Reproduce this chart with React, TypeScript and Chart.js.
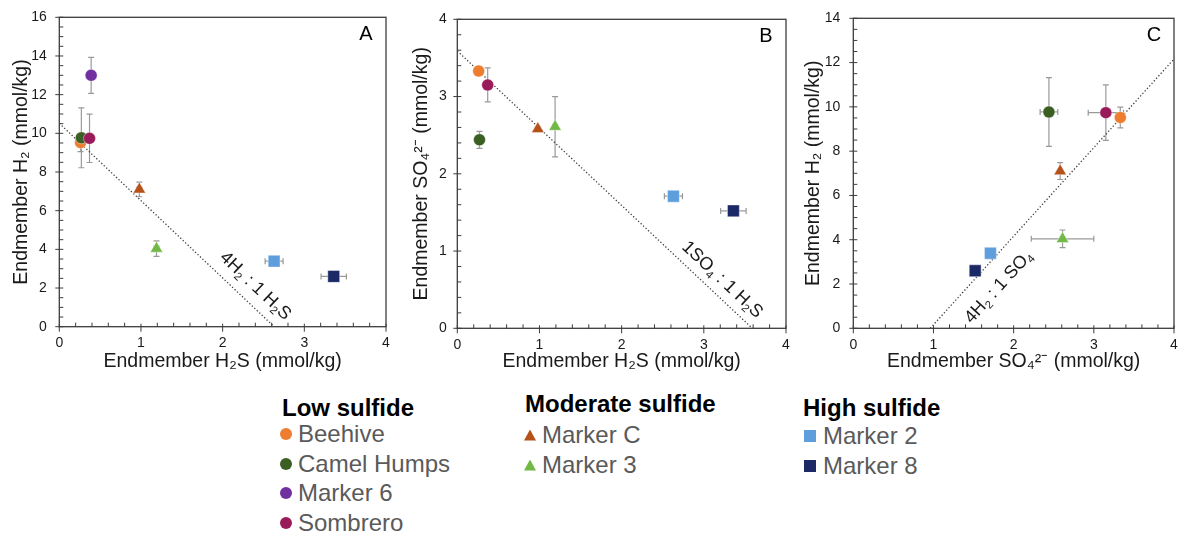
import React, { useEffect, useRef } from 'react';
import { Chart, registerables } from 'chart.js';
Chart.register(...registerables);

// ---------------- data ----------------
const sites = ['Beehive', 'Camel Humps', 'Marker 6', 'Sombrero', 'Marker C', 'Marker 3', 'Marker 2', 'Marker 8'];
const siteColors = ['#ED7D31', '#3B5E22', '#7030A0', '#9A1B59', '#B4521A', '#72B844', '#5F9EDC', '#1B2A66'];
const siteShapes = ['circle', 'circle', 'circle', 'circle', 'triangle', 'triangle', 'rect', 'rect'];

const h2s = [0.26, 0.27, 0.39, 0.37, 0.98, 1.19, 2.63, 3.36];
const h2sErr = [0, 0, 0, 0, 0.03, 0.03, 0.11, 0.155];
const h2 = [9.52, 9.77, 13.0, 9.74, 7.1, 4.04, 3.39, 2.6];
const h2Err = [0.47, 1.55, 0.93, 1.25, 0.38, 0.4, 0, 0];
const so4 = [3.33, 2.44, null, 3.15, 2.58, 2.61, 1.71, 1.52];
const so4Err = [0.04, 0.11, null, 0.22, 0.02, 0.39, 0, 0];

// reference lines (two end points each)
const lineAx = [0, 2.63];
const lineAy = [10.52, 0];
const lineBx = [0, 3.59];
const lineBy = [3.59, 0];
const lineCx = [0.96, 4];
const lineCy = [0, 12.16];

const xTicks = [0, 1, 2, 3, 4];
const yTicksA = [0, 2, 4, 6, 8, 10, 12, 14, 16];
const yTicksB = [0, 1, 2, 3, 4];
const yTicksC = [0, 2, 4, 6, 8, 10, 12, 14];

const groupTitles = ['Low sulfide', 'Moderate sulfide', 'High sulfide'];
const groupMembers = [[0, 1, 2, 3], [4, 5], [6, 7]];

// ---------------- layout / style ----------------
const FONT = "'Liberation Sans', Arial, Helvetica, sans-serif";
const CANVAS_H = 375;
const AXIS_COLOR = '#3c3c3c';
const TEXT_COLOR = '#1a1a1a';

type Seg = [string, number];

const panels = [
  {
    key: 'A', left: 0, width: 395,
    plot: { left: 59.3, right: 387.7, top: 17.3, bottom: 326.7 },
    xVals: h2s, xErr: h2sErr, yVals: h2, yErr: h2Err,
    yTicks: yTicksA, yMinor: 0.5, xMinor: 0.2,
    xTitle: 'Endmember H₂S (mmol/kg)', yTitle: 'Endmember H₂ (mmol/kg)',
    lx: lineAx, ly: lineAy,
    label: [['4H', 0], ['2', 1], [' : 1 H', 0], ['2', 1], ['S', 0]] as Seg[],
    labelAt: 2.26, labelOff: 16.5, yTitlePad: 10, yTickPad: 12.5,
  },
  {
    key: 'B', left: 395, width: 400,
    plot: { left: 457.3, right: 786, top: 19.3, bottom: 328.3 },
    xVals: h2s, xErr: h2sErr, yVals: so4, yErr: so4Err,
    yTicks: yTicksB, yMinor: 0.2, xMinor: 0.2,
    xTitle: 'Endmember H₂S (mmol/kg)', yTitle: 'Endmember SO₄²⁻ (mmol/kg)',
    lx: lineBx, ly: lineBy,
    label: [['1SO', 0], ['4', 1], [' : 1 H', 0], ['2', 1], ['S', 0]] as Seg[],
    labelAt: 3.1, labelOff: 14.7, yTitlePad: 15, yTickPad: 10.5,
  },
  {
    key: 'C', left: 790, width: 393,
    plot: { left: 853.3, right: 1180, top: 18.3, bottom: 328.3 },
    xVals: so4, xErr: so4Err, yVals: h2, yErr: h2Err,
    yTicks: yTicksC, yMinor: 0.5, xMinor: 0.2,
    xTitle: 'Endmember SO₄²⁻ (mmol/kg)', yTitle: 'Endmember H₂ (mmol/kg)',
    lx: lineCx, ly: lineCy,
    label: [['4H', 0], ['2', 1], [' : 1 SO', 0], ['4', 1]] as Seg[],
    labelAt: 1.6, labelOff: -23, yTitlePad: 12, yTickPad: 13,
  },
];

const radiusFor: Record<string, number> = { circle: 6, triangle: 7.2, rect: 8.4 };

function drawSegs(ctx: CanvasRenderingContext2D, segs: Seg[], size: number) {
  const big = `${size}px ${FONT}`;
  const small = `${size * 0.62}px ${FONT}`;
  let total = 0;
  segs.forEach(([t, s]) => { ctx.font = s ? small : big; total += ctx.measureText(t).width; });
  let x = -total / 2;
  segs.forEach(([t, s]) => {
    ctx.font = s ? small : big;
    ctx.fillText(t, x, s ? size * 0.3 : 0);
    x += ctx.measureText(t).width;
  });
}

function buildConfig(p: any) {
  const datasets: any[] = sites.map((name, i) => {
    const xv = p.xVals[i];
    const yv = p.yVals[i];
    return {
      label: name,
      data: xv == null || yv == null ? [] : [{ x: xv, y: yv }],
      pointStyle: siteShapes[i],
      pointRadius: radiusFor[siteShapes[i]],
      pointHoverRadius: radiusFor[siteShapes[i]],
      backgroundColor: siteColors[i],
      borderColor: 'rgba(255,255,255,0.7)',
      borderWidth: 0.6,
      showLine: false,
      order: -i,
    };
  });
  datasets.push({
    label: 'ratio',
    data: p.lx.map((x: number, k: number) => ({ x, y: p.ly[k] })),
    showLine: true,
    borderColor: '#404040',
    borderWidth: 1.3,
    borderDash: [1.3, 2.1],
    pointRadius: 0,
    fill: false,
    order: 10,
  });

  const xMax = xTicks[xTicks.length - 1];
  const yMax = p.yTicks[p.yTicks.length - 1];
  const yStep = p.yTicks[1] - p.yTicks[0];
  const xStep = xTicks[1] - xTicks[0];

  const plugin = {
    id: 'decor' + p.key,
    beforeDatasetsDraw(chart: any) {
      const ctx = chart.ctx as CanvasRenderingContext2D;
      const xs = chart.scales.x, ys = chart.scales.y;
      // error bars
      ctx.save();
      ctx.strokeStyle = '#9a9a9a';
      ctx.lineWidth = 1.2;
      const cap = 3;
      sites.forEach((_, i) => {
        const xv = p.xVals[i], yv = p.yVals[i];
        if (xv == null || yv == null) return;
        const px = xs.getPixelForValue(xv), py = ys.getPixelForValue(yv);
        const ex = p.xErr[i] || 0, ey = p.yErr[i] || 0;
        if (ex > 0) {
          const a = xs.getPixelForValue(xv - ex), b = xs.getPixelForValue(xv + ex);
          ctx.beginPath();
          ctx.moveTo(a, py); ctx.lineTo(b, py);
          ctx.moveTo(a, py - cap); ctx.lineTo(a, py + cap);
          ctx.moveTo(b, py - cap); ctx.lineTo(b, py + cap);
          ctx.stroke();
        }
        if (ey > 0) {
          const a = ys.getPixelForValue(yv - ey), b = ys.getPixelForValue(yv + ey);
          ctx.beginPath();
          ctx.moveTo(px, a); ctx.lineTo(px, b);
          ctx.moveTo(px - cap, a); ctx.lineTo(px + cap, a);
          ctx.moveTo(px - cap, b); ctx.lineTo(px + cap, b);
          ctx.stroke();
        }
      });
      ctx.restore();

      // ratio line label
      const p1x = xs.getPixelForValue(p.lx[0]), p1y = ys.getPixelForValue(p.ly[0]);
      const p2x = xs.getPixelForValue(p.lx[1]), p2y = ys.getPixelForValue(p.ly[1]);
      const ang = Math.atan2(p2y - p1y, p2x - p1x);
      const t = (p.labelAt - p.lx[0]) / (p.lx[1] - p.lx[0]);
      const ay = p.ly[0] + t * (p.ly[1] - p.ly[0]);
      const ax = xs.getPixelForValue(p.labelAt), ayPx = ys.getPixelForValue(ay);
      const cx = ax + p.labelOff * Math.sin(ang);
      const cy = ayPx - p.labelOff * Math.cos(ang);
      ctx.save();
      ctx.translate(cx, cy);
      ctx.rotate(ang);
      ctx.fillStyle = TEXT_COLOR;
      ctx.textBaseline = 'middle';
      ctx.textAlign = 'left';
      drawSegs(ctx, p.label, 18);
      ctx.restore();
    },
    afterDraw(chart: any) {
      const ctx = chart.ctx as CanvasRenderingContext2D;
      const xs = chart.scales.x, ys = chart.scales.y;
      const a = chart.chartArea;
      ctx.save();
      ctx.strokeStyle = AXIS_COLOR;
      ctx.lineWidth = 1.3;
      ctx.strokeRect(a.left, a.top, a.right - a.left, a.bottom - a.top);
      ctx.lineWidth = 1;
      ctx.beginPath();
      const nx = Math.round(xMax / p.xMinor);
      for (let k = 0; k <= nx; k++) {
        const v = k * p.xMinor;
        const px = xs.getPixelForValue(v);
        const isMajor = Math.abs(v / xStep - Math.round(v / xStep)) < 1e-6;
        if (isMajor) { ctx.moveTo(px, a.bottom - 3); ctx.lineTo(px, a.bottom + 5); }
        else { ctx.moveTo(px, a.bottom); ctx.lineTo(px, a.bottom - 4); }
      }
      const ny = Math.round(yMax / p.yMinor);
      for (let k = 0; k <= ny; k++) {
        const v = k * p.yMinor;
        const py = ys.getPixelForValue(v);
        const isMajor = Math.abs(v / yStep - Math.round(v / yStep)) < 1e-6;
        if (isMajor) { ctx.moveTo(a.left - 4, py); ctx.lineTo(a.left + 4, py); }
        else { ctx.moveTo(a.left, py); ctx.lineTo(a.left + 4, py); }
      }
      ctx.stroke();
      // panel letter
      ctx.fillStyle = '#000';
      ctx.font = `20px ${FONT}`;
      ctx.textAlign = 'center';
      ctx.textBaseline = 'middle';
      ctx.fillText(p.key, a.right - 20, a.top + 17.5);
      ctx.restore();
    },
  };

  const xH = CANVAS_H - p.plot.bottom;
  const yW = p.plot.left - p.left;

  return {
    type: 'scatter' as const,
    data: { datasets },
    options: {
      animation: false,
      responsive: false,
      maintainAspectRatio: false,
      events: [],
      layout: { padding: { top: p.plot.top, right: p.left + p.width - p.plot.right, left: 0, bottom: 0 } },
      plugins: { legend: { display: false }, tooltip: { enabled: false } },
      scales: {
        x: {
          type: 'linear', min: 0, max: xMax,
          afterFit: (s: any) => { s.height = xH; s.paddingLeft = 0; s.paddingRight = 0; },
          afterBuildTicks: (s: any) => { s.ticks = xTicks.map((v) => ({ value: v })); },
          grid: { display: false, drawTicks: false },
          border: { display: false },
          ticks: { padding: 8, color: TEXT_COLOR, font: { size: 14, family: FONT } },
          title: { display: true, text: p.xTitle, color: TEXT_COLOR, font: { size: 19.5, family: FONT }, padding: { top: 0, bottom: 2 } },
        },
        y: {
          type: 'linear', min: 0, max: yMax,
          afterFit: (s: any) => { s.width = yW; s.paddingTop = 0; s.paddingBottom = 0; },
          afterBuildTicks: (s: any) => { s.ticks = p.yTicks.map((v: number) => ({ value: v })); },
          grid: { display: false, drawTicks: false },
          border: { display: false },
          ticks: { padding: p.yTickPad, color: TEXT_COLOR, font: { size: 14, family: FONT } },
          title: { display: true, text: p.yTitle, color: TEXT_COLOR, font: { size: 19.5, family: FONT }, padding: { top: p.yTitlePad, bottom: 0 } },
        },
      },
    },
    plugins: [plugin],
  };
}

// legend placement
const legendPos = [
  { left: 282, titleC: 408, rowC: 434.3, gap: 29.5, markC: 285.7, textL: 298 },
  { left: 525, titleC: 404, rowC: 435, gap: 30, markC: 530, textL: 542 },
  { left: 803, titleC: 407.5, rowC: 436, gap: 30, markC: 810, textL: 823 },
];

function Marker({ shape, color }: { shape: string; color: string }) {
  const base: React.CSSProperties = { position: 'absolute', left: -6, top: -6, width: 12, height: 12, background: color };
  if (shape === 'circle') return <div style={{ ...base, borderRadius: '50%' }} />;
  if (shape === 'triangle') return <div style={{ ...base, left: -6, top: -5.5, height: 11, clipPath: 'polygon(50% 0, 100% 100%, 0 100%)' }} />;
  return <div style={{ ...base }} />;
}

export default function App() {
  const r0 = useRef<HTMLCanvasElement>(null);
  const r1 = useRef<HTMLCanvasElement>(null);
  const r2 = useRef<HTMLCanvasElement>(null);
  const refs = [r0, r1, r2];

  useEffect(() => {
    const charts = panels.map((p, i) => new Chart(refs[i].current as HTMLCanvasElement, buildConfig(p) as any));
    return () => charts.forEach((c) => c.destroy());
  }, []);

  const FS = 24;
  return (
    <div style={{ position: 'fixed', left: 0, top: 0, width: 1183, height: 534, background: '#fff', overflow: 'hidden', fontFamily: FONT }}>
      {panels.map((p, i) => (
        <canvas
          key={p.key}
          ref={refs[i]}
          width={p.width}
          height={CANVAS_H}
          style={{ position: 'absolute', left: p.left, top: 0, width: p.width, height: CANVAS_H, display: 'block' }}
        />
      ))}
      {groupTitles.map((title, g) => {
        const lp = legendPos[g];
        return (
          <React.Fragment key={title}>
            <div style={{ position: 'absolute', left: lp.left, top: lp.titleC - FS / 2, fontSize: FS, lineHeight: `${FS}px`, fontWeight: 'bold', color: '#000', whiteSpace: 'nowrap' }}>
              {title}
            </div>
            {groupMembers[g].map((si, k) => {
              const cy = lp.rowC + k * lp.gap;
              return (
                <React.Fragment key={si}>
                  <div style={{ position: 'absolute', left: lp.markC, top: cy, width: 0, height: 0 }}>
                    <Marker shape={siteShapes[si]} color={siteColors[si]} />
                  </div>
                  <div style={{ position: 'absolute', left: lp.textL, top: cy - FS / 2, fontSize: FS, lineHeight: `${FS}px`, color: '#5a5a5a', whiteSpace: 'nowrap' }}>
                    {sites[si]}
                  </div>
                </React.Fragment>
              );
            })}
          </React.Fragment>
        );
      })}
    </div>
  );
}
